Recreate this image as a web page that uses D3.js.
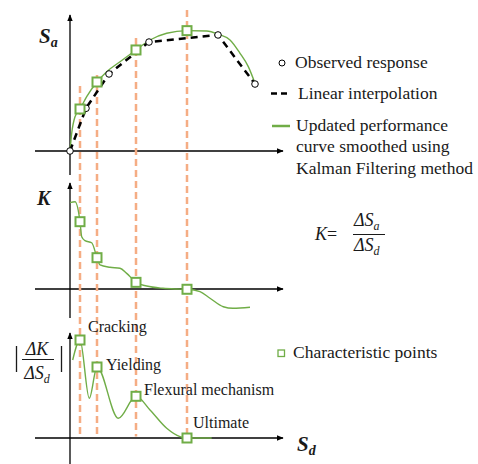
<!DOCTYPE html>
<html>
<head>
<meta charset="utf-8">
<script src="https://cdn.jsdelivr.net/npm/d3@7"></script>
<style>
  body { margin: 0; background: #fff; }
</style>
</head>
<body>
<script>
// characteristic points (Sd) and their names
const charSd = [5, 13.5, 33, 58.5];
const charNames = ["Cracking", "Yielding", "Flexural mechanism", "Ultimate"];
const charSa = [0.35, 0.575, 0.842, 1.003];
const charK = [0.748, 0.348, 0.074, -0.003];
const charDK = [0.98, 0.71, 0.417, 0];

// observed response
const obsSd = [0, 8, 19.5, 39.5, 74, 92.5];
const obsSa = [0, 0.356, 0.642, 0.908, 0.967, 0.558];

// smoothed (Kalman) performance curve
const smoothSd = [0, 0.85, 2.5, 5, 8.35, 13.5, 18.35, 25, 33, 40, 48.35, 58.5, 68.35, 74.15, 80, 85, 89.15, 92.5];
const smoothSa = [0, 0.148, 0.286, 0.35, 0.453, 0.575, 0.661, 0.744, 0.842, 0.925, 0.981, 1.003, 1.0, 0.973, 0.925, 0.814, 0.703, 0.564];

// K = dSa/dSd
const kSd = [0, 2.5, 5, 5.85, 7.5, 10.85, 13.5, 15, 20, 25, 28.35, 33, 38.35, 46.5, 53.35, 58.5, 65, 70, 76.65, 81.5, 90];
const kVal = [0.959, 0.97, 0.748, 0.581, 0.537, 0.514, 0.348, 0.267, 0.241, 0.23, 0.174, 0.074, 0.033, 0.008, 0, -0.003, -0.03, -0.103, -0.197, -0.214, -0.203];

// |dK/dSd|
const dkSd = [1.35, 5, 9.65, 13.5, 24.15, 33, 40, 48.35, 55, 58.5, 70.85];
const dkVal = [0.78, 0.98, 0.397, 0.71, 0.197, 0.417, 0.28, 0.097, 0.013, 0, 0];

// top of each orange guide line (in Sa units)
const guideTop = [0.542, 0.633, 0.942, 1.175];

const w = 478, h = 464;
const green = "#70ad47", orange = "#f5ad84", ink = "#1a1a1a";
const serif = "'Liberation Serif', 'DejaVu Serif', serif";

const svg = d3.select("body").append("svg")
  .attr("width", w).attr("height", h)
  .attr("font-family", serif);

const defs = svg.append("defs");
defs.append("marker").attr("id", "arr")
  .attr("viewBox", "0 0 10 10").attr("refX", 9).attr("refY", 5)
  .attr("markerWidth", 7).attr("markerHeight", 7).attr("markerUnits", "userSpaceOnUse")
  .attr("orient", "auto")
  .append("path").attr("d", "M0,1 L10,5 L0,9 Z").attr("fill", "#000");

const x = d3.scaleLinear().domain([0, 100]).range([70, 270]);
const yTop = d3.scaleLinear().domain([0, 1]).range([151, 31]);
const yMid = d3.scaleLinear().domain([0, 1]).range([289, 199]);
const yBot = d3.scaleLinear().domain([0, 1]).range([438, 338]);

// axes
function axes(y, yLo, yHi) {
  svg.append("line").attr("x1", 35).attr("x2", 283)
    .attr("y1", y(0)).attr("y2", y(0))
    .attr("stroke", "#000").attr("stroke-width", 1.3).attr("marker-end", "url(#arr)");
  svg.append("line").attr("x1", x(0)).attr("x2", x(0))
    .attr("y1", yLo).attr("y2", yHi)
    .attr("stroke", "#000").attr("stroke-width", 1.3).attr("marker-end", "url(#arr)");
}
axes(yTop, 175, 15);
axes(yMid, 318, 183);
axes(yBot, 464, 333);

// orange guides
svg.append("g").selectAll("line").data(charSd).enter().append("line")
  .attr("x1", d => x(d)).attr("x2", d => x(d))
  .attr("y1", (d, i) => yTop(guideTop[i]))
  .attr("y2", yBot(0.015))
  .attr("stroke", orange).attr("stroke-width", 2.5).attr("stroke-dasharray", "7,4");

const lineGen = (xs, ys, yS, curve) => d3.line()
  .x((d, i) => x(xs[i])).y((d, i) => yS(ys[i])).curve(curve)(xs);

// top panel
svg.append("path").attr("d", lineGen(smoothSd, smoothSa, yTop, d3.curveMonotoneX))
  .attr("fill", "none").attr("stroke", green).attr("stroke-width", 1.4);
svg.append("path").attr("d", lineGen(obsSd, obsSa, yTop, d3.curveLinear))
  .attr("fill", "none").attr("stroke", "#000").attr("stroke-width", 2.5).attr("stroke-dasharray", "7,5");
svg.append("g").selectAll("circle").data(obsSd).enter().append("circle")
  .attr("cx", d => x(d)).attr("cy", (d, i) => yTop(obsSa[i])).attr("r", 3.3)
  .attr("fill", "#fff").attr("stroke", "#000").attr("stroke-width", 1);

// middle panel
svg.append("path").attr("d", lineGen(kSd, kVal, yMid, d3.curveMonotoneX))
  .attr("fill", "none").attr("stroke", green).attr("stroke-width", 1.4);

// bottom panel
svg.append("path").attr("d", lineGen(dkSd, dkVal, yBot, d3.curveMonotoneX))
  .attr("fill", "none").attr("stroke", green).attr("stroke-width", 1.4);

// characteristic squares
function squares(vals, y) {
  svg.append("g").selectAll("rect").data(charSd).enter().append("rect")
    .attr("x", d => x(d) - 4.5).attr("y", (d, i) => y(vals[i]) - 4.5)
    .attr("width", 9).attr("height", 9)
    .attr("fill", "#fff").attr("stroke", green).attr("stroke-width", 2);
}
squares(charSa, yTop);
squares(charK, yMid);
squares(charDK, yBot);

// labels of characteristic points
const labelDx = [8, 9, 8, 6];
const labelDy = [-8, 3, -1, -10];
svg.append("g").selectAll("text").data(charNames).enter().append("text")
  .attr("x", (d, i) => x(charSd[i]) + labelDx[i])
  .attr("y", (d, i) => yBot(charDK[i]) + labelDy[i])
  .attr("font-size", 16).attr("fill", ink).text(d => d);

// axis titles
const sa = svg.append("text").attr("x", 39).attr("y", 43).attr("fill", ink)
  .attr("font-weight", "bold").attr("font-style", "italic").attr("font-size", 21);
sa.append("tspan").text("S");
sa.append("tspan").attr("dy", 4).attr("font-size", 14).text("a");

svg.append("text").attr("x", 37).attr("y", 205).attr("fill", ink)
  .attr("font-weight", "bold").attr("font-style", "italic").attr("font-size", 20).text("K");

const sd = svg.append("text").attr("x", 297).attr("y", 451).attr("fill", ink)
  .attr("font-weight", "bold").attr("font-style", "italic").attr("font-size", 21);
sd.append("tspan").text("S");
sd.append("tspan").attr("dy", 4).attr("font-size", 14).text("d");

// |dK / dSd|
svg.append("text").attr("x", 37).attr("y", 355).attr("text-anchor", "middle").attr("fill", ink)
  .attr("font-style", "italic").attr("font-size", 18).text("ΔK");
svg.append("line").attr("x1", 22).attr("x2", 54).attr("y1", 359.5).attr("y2", 359.5)
  .attr("stroke", ink).attr("stroke-width", 1);
const dsd = svg.append("text").attr("x", 37).attr("y", 379).attr("text-anchor", "middle").attr("fill", ink)
  .attr("font-style", "italic").attr("font-size", 18);
dsd.append("tspan").text("ΔS");
dsd.append("tspan").attr("dy", 4).attr("font-size", 12).text("d");
[16.5, 61.5].forEach(bx => svg.append("line").attr("x1", bx).attr("x2", bx)
  .attr("y1", 346).attr("y2", 372).attr("stroke", ink).attr("stroke-width", 1.3));

// K formula
const kf = svg.append("text").attr("x", 315).attr("y", 240).attr("font-size", 18).attr("fill", ink);
kf.append("tspan").attr("font-style", "italic").text("K");
kf.append("tspan").text("=");
const num = svg.append("text").attr("x", 354).attr("y", 226).attr("font-size", 18)
  .attr("font-style", "italic").attr("fill", ink);
num.append("tspan").text("ΔS");
num.append("tspan").attr("dy", 4).attr("font-size", 12).text("a");
svg.append("line").attr("x1", 353).attr("x2", 385).attr("y1", 234.5).attr("y2", 234.5)
  .attr("stroke", ink).attr("stroke-width", 1);
const den = svg.append("text").attr("x", 354).attr("y", 251).attr("font-size", 18)
  .attr("font-style", "italic").attr("fill", ink);
den.append("tspan").text("ΔS");
den.append("tspan").attr("dy", 4).attr("font-size", 12).text("d");

// legend
const legend = svg.append("g").attr("id", "legend").attr("fill", ink);
legend.append("circle").attr("cx", 282).attr("cy", 63).attr("r", 3)
  .attr("fill", "#fff").attr("stroke", "#000").attr("stroke-width", 1);
legend.append("text").attr("x", 295).attr("y", 68).attr("font-size", 17.5).text("Observed response");

legend.append("line").attr("x1", 271).attr("x2", 290).attr("y1", 93.5).attr("y2", 93.5)
  .attr("stroke", "#000").attr("stroke-width", 2.5).attr("stroke-dasharray", "6,4");
legend.append("text").attr("x", 298).attr("y", 99).attr("font-size", 17.5).text("Linear interpolation");

legend.append("line").attr("x1", 272).attr("x2", 290).attr("y1", 126).attr("y2", 126)
  .attr("stroke", green).attr("stroke-width", 2.5);
["Updated performance", "curve smoothed using", "Kalman Filtering method"].forEach((t, i) =>
  legend.append("text").attr("x", 296).attr("y", 131 + i * 21.3).attr("font-size", 17.5).text(t));

legend.append("rect").attr("x", 278).attr("y", 350).attr("width", 6.5).attr("height", 6.5)
  .attr("fill", "#fff").attr("stroke", green).attr("stroke-width", 1.3);
legend.append("text").attr("x", 293).attr("y", 358).attr("font-size", 17.5).text("Characteristic points");
</script>
</body>
</html>
